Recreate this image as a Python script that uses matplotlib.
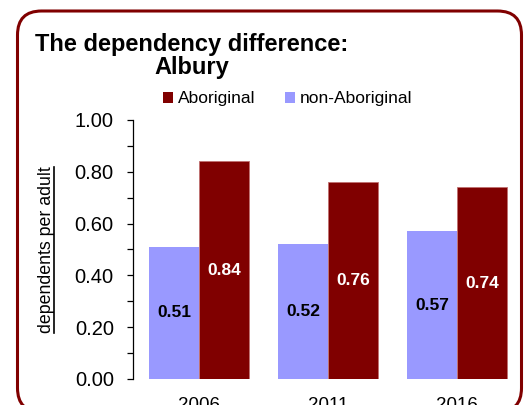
import matplotlib
matplotlib.use("Agg")
import matplotlib.pyplot as plt
from matplotlib.patches import FancyBboxPatch, Patch
from matplotlib.ticker import MultipleLocator
import numpy as np

# data ###############
years = ["2006", "2011", "2016"]
non_aboriginal = [0.51, 0.52, 0.57]
aboriginal = [0.84, 0.76, 0.74]

dark_red = "#800000"
lilac = "#9999FF"
font = "Liberation Sans"

W, H = 531, 405
fig = plt.figure(figsize=(W / 100, H / 100), dpi=100)

# rounded frame drawn in pixel units
bg = fig.add_axes([0, 0, 1, 1], zorder=-1)
bg.set_xlim(0, W)
bg.set_ylim(H, 0)
bg.axis("off")
bg.add_patch(FancyBboxPatch((17.5, 11), 504, 401,
                            boxstyle="round,pad=0,rounding_size=24",
                            facecolor="white", edgecolor=dark_red, lw=2.2))

# chart ##############
ax = fig.add_axes([133 / W, 26 / H, 390 / W, 259 / H])
ax.patch.set_alpha(0)
x = np.arange(len(years))
w = 0.388
b1 = ax.bar(x - w / 2, non_aboriginal, w, color=lilac, zorder=2)
b2 = ax.bar(x + w / 2, aboriginal, w, color=dark_red, edgecolor="#c07070",
            linewidth=0.6, zorder=2)

for r, v in zip(b1, non_aboriginal):
    ax.text(r.get_x() + r.get_width() / 2, v / 2, f"{v:.2f}", ha="center",
            va="center", fontsize=12.5, fontweight="bold", family=font,
            color="black")
for r, v in zip(b2, aboriginal):
    ax.text(r.get_x() + r.get_width() / 2, v / 2, f"{v:.2f}", ha="center",
            va="center", fontsize=12.5, fontweight="bold", family=font,
            color="white")

ax.set_xlim(-0.512, 2.51)
ax.set_ylim(0, 1.0)
ax.yaxis.set_major_locator(MultipleLocator(0.2))
ax.yaxis.set_minor_locator(MultipleLocator(0.1))
ax.yaxis.set_major_formatter(matplotlib.ticker.FormatStrFormatter("%.2f"))
for s in ["top", "right", "bottom"]:
    ax.spines[s].set_visible(False)
ax.spines["left"].set_linewidth(0.9)
ax.tick_params(axis="y", which="both", direction="out", length=4.3,
               width=0.9, pad=9.5)
ax.tick_params(axis="x", length=0, pad=13)
ax.set_xticks(x)
ax.set_xticklabels(years)
for t in ax.get_yticklabels():
    t.set_fontsize(14.5)
    t.set_family(font)
for t in ax.get_xticklabels():
    t.set_fontsize(13.5)
    t.set_family(font)

# y label with underline
fig.text(51 / W, 1 - 250 / H, "dependents per adult", rotation=90,
         rotation_mode="anchor", ha="center", va="baseline",
         fontsize=12.8, family=font)
bg.plot([53.5, 53.5], [167, 333], color="black", lw=1.2)

# title
fig.text(192 / W, 1 - 56 / H, "The dependency difference:\nAlbury",
         ha="center", va="center", fontsize=17, fontweight="bold",
         family=font, linespacing=1.05)

# legend
handles = [Patch(facecolor=dark_red), Patch(facecolor=lilac)]
fig.legend(handles, ["Aboriginal", "non-Aboriginal"], ncol=2,
           loc="center", bbox_to_anchor=(288 / W, 1 - 99 / H),
           frameon=False, handlelength=0.57, handleheight=0.57,
           handletextpad=0.29, columnspacing=1.7,
           prop={"family": font, "size": 12.5})

fig.savefig("out.png", dpi=100)
